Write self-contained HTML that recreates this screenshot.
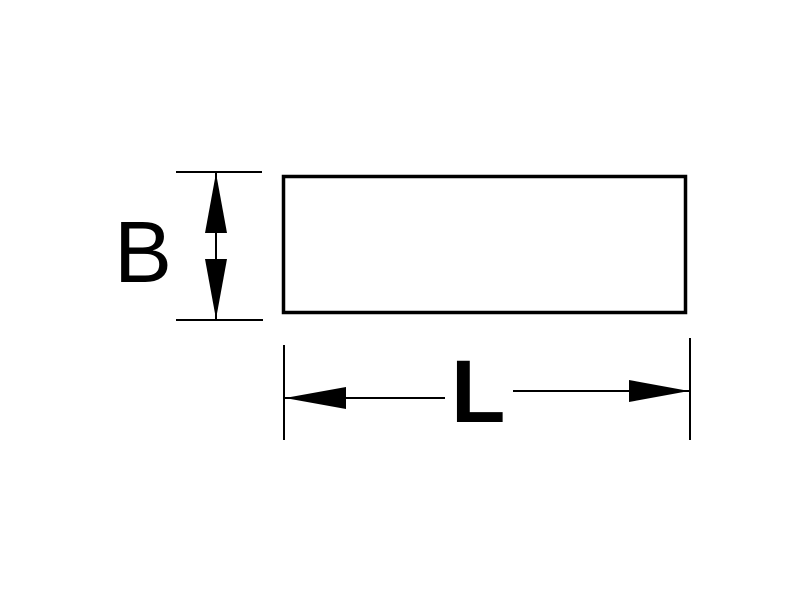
<!DOCTYPE html>
<html><head><style>body{margin:0;background:#fff}svg{display:block}</style></head>
<body>
<svg width="800" height="600" viewBox="0 0 800 600" xmlns="http://www.w3.org/2000/svg">
<rect width="800" height="600" fill="#fff"/>
<rect x="283.5" y="176.5" width="402" height="136" fill="none" stroke="#000" stroke-width="3.5"/>
<g stroke="#000" stroke-width="2">
<line x1="176" y1="172" x2="262" y2="172"/>
<line x1="176" y1="320" x2="263" y2="320"/>
<line x1="216" y1="172" x2="216" y2="320"/>
<line x1="284" y1="345" x2="284" y2="440"/>
<line x1="690" y1="338" x2="690" y2="440"/>
<line x1="284" y1="398" x2="445" y2="398"/>
<line x1="513" y1="391" x2="690" y2="391"/>
</g>
<polygon points="216,173 205,233 227,233" fill="#000"/>
<polygon points="216,319 205,259 227,259" fill="#000"/>
<polygon points="285,398 346,387 346,409" fill="#000"/>
<polygon points="689,391 629,380 629,402" fill="#000"/>
<text x="114" y="282" font-family="Liberation Sans, sans-serif" font-size="87" fill="#000">B</text>
<text x="451" y="422" font-family="Liberation Sans, sans-serif" font-size="89" font-weight="bold" fill="#000">L</text>
</svg>
</body></html>
